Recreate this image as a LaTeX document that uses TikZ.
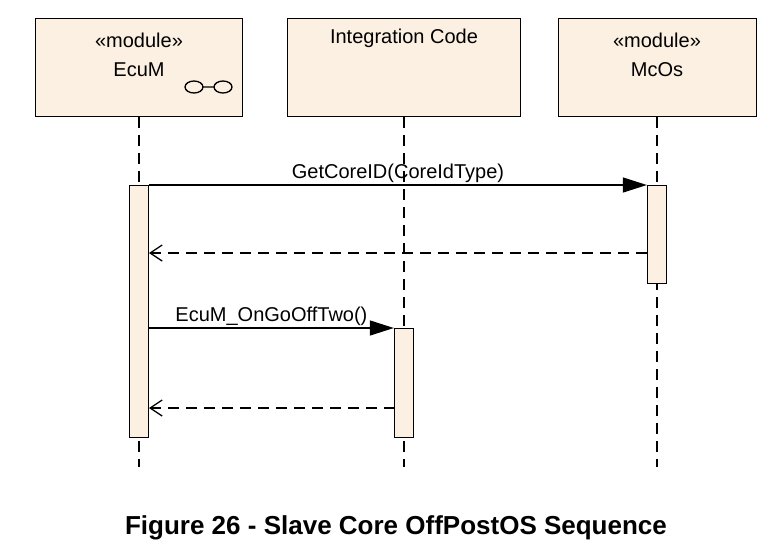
\documentclass[tikz,border=0pt]{standalone}
\usepackage{fontspec}
\setmainfont{Liberation Sans}
\usetikzlibrary{arrows.meta}
\definecolor{boxfill}{HTML}{FBF0E2}
\begin{document}
\begin{tikzpicture}[x=1pt,y=-1pt,
  obj/.style={draw,fill=boxfill,line width=1.4pt,minimum width=207pt,minimum height=98pt,anchor=north west,inner sep=0pt},
  act/.style={draw,fill=boxfill,line width=1.3pt,minimum width=19pt,inner sep=0pt},
  life/.style={dash pattern=on 11pt off 7pt,line width=1.3pt},
  call/.style={line width=1.3pt,-{Triangle[length=24pt,width=15pt]}},
  ret/.style={line width=1.3pt,dash pattern=on 11pt off 7pt,-{Straight Barb[length=12pt,width=16pt]}},
  ttl/.style={font=\fontsize{20}{24}\selectfont},
  lbl/.style={font=\fontsize{20}{24}\selectfont,above,inner sep=2pt}]
\useasboundingbox (0,0) rectangle (769,547);
\node[obj] (ecum) at (35,18) {};
\node[ttl] (ecumt) at (139,40) {«module»};
\node[ttl] (ecumn) at (139,70) {EcuM};
\draw[line width=1.3pt] (194,87) ellipse (9pt and 6pt) (223,87) ellipse (9pt and 6pt) (203,87) -- (214,87);
\node[obj,minimum width=233pt] (int) at (287,18) {};
\node[ttl] (intt) at (404,38) {Integration Code};
\node[obj,minimum width=198pt] (mcos) at (558,18) {};
\node[ttl] (mcost) at (657,40) {«module»};
\node[ttl] (mcosn) at (657,70) {McOs};
\coordinate (e1) at (139,467); \coordinate (i1) at (404,467); \coordinate (m1) at (657,467);
\draw[life] (ecum.south -| e1) -- (e1);
\draw[life] (int.south -| i1) -- (i1);
\draw[life] (mcos.south -| m1) -- (m1);
\node[act,minimum height=252pt,anchor=north] (ae) at (139,185) {};
\node[act,minimum height=98pt,anchor=north] (am) at (657,185) {};
\node[act,minimum height=109pt,anchor=north] (ai) at (404,328) {};
\draw[call] (ae.north east) -- node[lbl]{GetCoreID(CoreIdType)} (am.north west);
\coordinate (r1a) at (647,253); \coordinate (r1b) at (149,253);
\draw[ret] (r1a) -- (r1b);
\draw[call] (149,328) -- node[lbl]{EcuM\_OnGoOffTwo()} (ai.north west);
\coordinate (r2a) at (395,408); \coordinate (r2b) at (149,408);
\draw[ret] (r2a) -- (r2b);
\node[font=\bfseries\fontsize{26}{30}\selectfont] (cap) at (396,528) {Figure 26 - Slave Core OffPostOS Sequence};
\end{tikzpicture}
\end{document}
